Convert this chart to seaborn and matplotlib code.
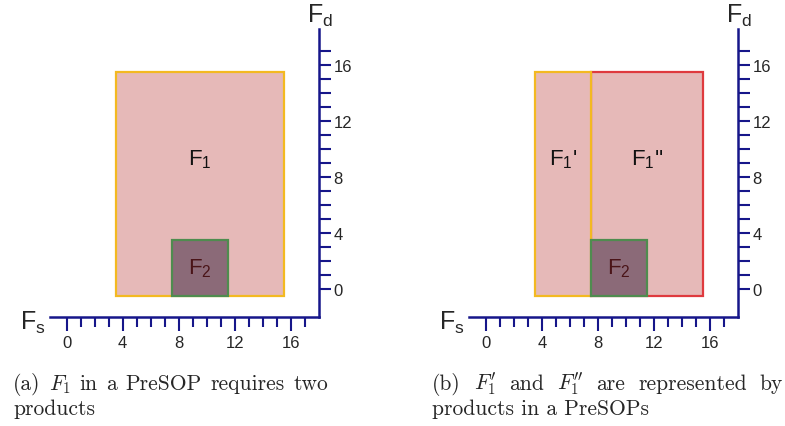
import matplotlib
matplotlib.use("Agg")
import matplotlib.pyplot as plt
import seaborn as sns
from matplotlib.ticker import FixedLocator

sns.set_style("white")
plt.rcParams['font.family'] = ['Liberation Sans', 'DejaVu Sans']

# panel (a): F1 with F2 inside
a_names = [r"$\mathregular{F_1}$", r"$\mathregular{F_2}$"]
a_left = [3.5, 7.5]
a_right = [15.5, 11.5]
a_bottom = [-0.5, -0.5]
a_top = [15.5, 3.5]
a_lab_x = [9.5, 9.5]
a_lab_y = [9.3, 1.5]

# panel (b): F1 split into F1' and F1''
b_names = [r"$\mathregular{F_1}$''", r"$\mathregular{F_1}$'", r"$\mathregular{F_2}$"]
b_left = [7.5, 3.5, 7.5]
b_right = [15.5, 7.5, 11.5]
b_bottom = [-0.5, -0.5, -0.5]
b_top = [15.5, 15.5, 3.5]
b_lab_x = [11.5, 5.5, 9.5]
b_lab_y = [9.3, 9.3, 1.5]

tick_major = [0, 4, 8, 12, 16]
tick_minor = list(range(0, 18))

cap_a1 = ["(a)", "$F_1$", "in", "a", "PreSOP", "requires", "two"]
cap_a2 = "products"
cap_b1 = ["(b)", "$F_1'$", "and", "$F_1''$", "are", "represented", "by"]
cap_b2 = "products in a PreSOPs"

pink = "#e6b9b8"
gold = "#f3b921"
red = "#df3a3e"
purple = "#8b6a78"
green = "#4f8c4f"
navy = "#16168a"

fig = plt.figure(figsize=(7.85, 4.27), dpi=100)
ax_a = fig.add_axes([0.02255, 0.1897, 0.4191, 0.7869])
ax_b = fig.add_axes([0.5567, 0.1897, 0.4191, 0.7869])


def draw_panel(ax, names, left, right, bottom, top, lx, ly, faces, edges, tcols):
    for i in range(len(names)):
        ax.bar(left[i], top[i] - bottom[i], width=right[i] - left[i], bottom=bottom[i],
               align='edge', color=faces[i], edgecolor=edges[i], linewidth=1.6, zorder=2 + i)
        ax.text(lx[i], ly[i], names[i], ha='center', va='center', fontsize=16,
                color=tcols[i], zorder=10)

    ax.set_xlim(-3.5, 20)
    ax.set_ylim(-4, 20)
    ax.set_facecolor("white")
    ax.spines['top'].set_visible(False)
    ax.spines['left'].set_visible(False)
    for s in ['bottom', 'right']:
        ax.spines[s].set_color(navy)
        ax.spines[s].set_linewidth(1.8)
    ax.spines['bottom'].set_position(('data', -2))
    ax.spines['bottom'].set_bounds(-1.2, 18)
    ax.spines['right'].set_position(('data', 18))
    ax.spines['right'].set_bounds(-2, 18.6)
    ax.yaxis.tick_right()
    ax.xaxis.tick_bottom()
    ax.xaxis.set_major_locator(FixedLocator(tick_major))
    ax.xaxis.set_minor_locator(FixedLocator(tick_minor))
    ax.yaxis.set_major_locator(FixedLocator(tick_major))
    ax.yaxis.set_minor_locator(FixedLocator(tick_minor))
    ax.tick_params(axis='x', which='major', direction='out', length=10, width=1.5,
                   color=navy, pad=3, labelsize=12, bottom=True)
    ax.tick_params(axis='x', which='minor', direction='out', length=7.5, width=1.5,
                   color=navy, bottom=True)
    ax.tick_params(axis='y', which='both', direction='out', length=8.5, width=1.5,
                   color=navy, pad=2, labelsize=12, right=True, left=False)
    ax.grid(False)
    ax.text(-1.5, -2.86, r"$\mathregular{F_s}$", ha='right', va='baseline', fontsize=18)
    ax.text(18.1, 19.07, r"$\mathregular{F_d}$", ha='center', va='baseline', fontsize=18)


draw_panel(ax_a, a_names, a_left, a_right, a_bottom, a_top, a_lab_x, a_lab_y,
           [pink, purple], [gold, green], ["#111111", "#4a1418"])
draw_panel(ax_b, b_names, b_left, b_right, b_bottom, b_top, b_lab_x, b_lab_y,
           [pink, pink, purple], [red, gold, green], ["#111111", "#111111", "#4a1418"])

W, H = 785.0, 427.0
cap_kw = dict(family='cmr10', math_fontfamily='cm', fontsize=15.5, va='baseline')
renderer = fig.canvas.get_renderer()


def justify(words, x0, x1, y):
    ts = [fig.text(0, 1 - y / H, w, **cap_kw) for w in words]
    widths = [t.get_window_extent(renderer).width for t in ts]
    gap = (x1 - x0 - sum(widths)) / (len(words) - 1)
    x = x0
    for t, w in zip(ts, widths):
        t.set_x(x / W)
        x += w + gap


justify(cap_a1, 13, 328, 390)
fig.text(13 / W, 1 - 415 / H, cap_a2, **cap_kw)
justify(cap_b1, 432, 783, 390)
fig.text(432 / W, 1 - 415 / H, cap_b2, **cap_kw)

fig.savefig("out.png", dpi=100)
